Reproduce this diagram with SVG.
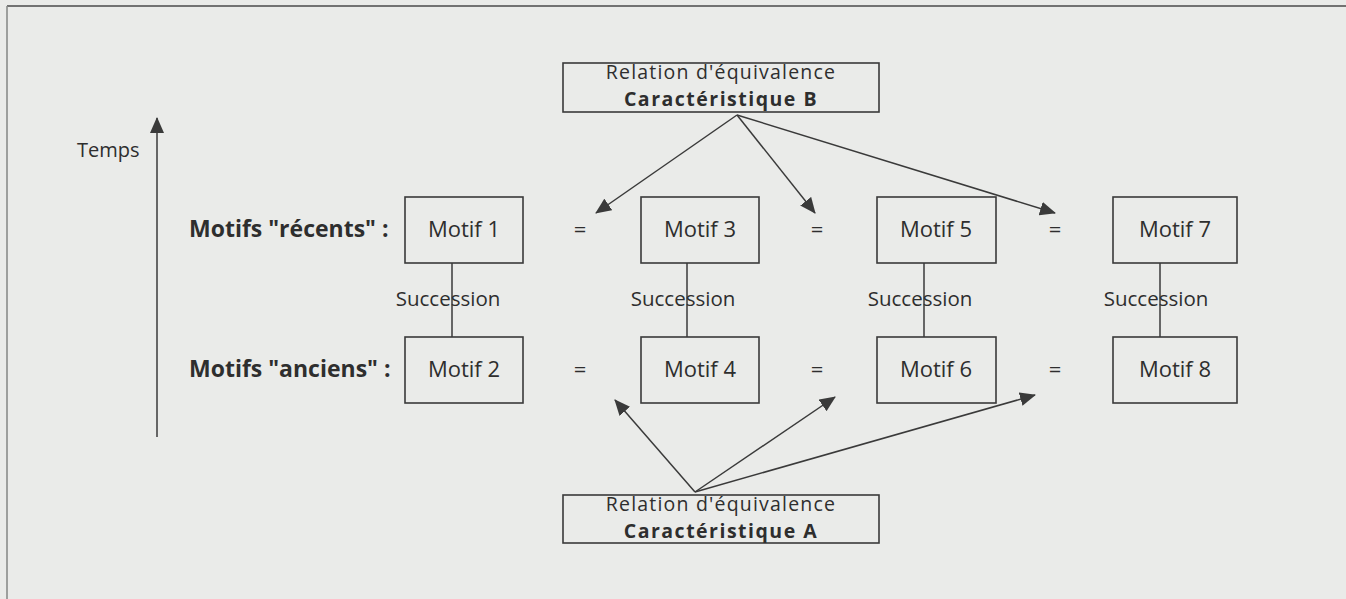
<svg xmlns="http://www.w3.org/2000/svg" width="1346" height="599" viewBox="0 0 1346 599">
  <defs>
    <marker id="ah" markerUnits="userSpaceOnUse" markerWidth="16" markerHeight="14" refX="15" refY="7" orient="auto">
      <path d="M0,0 L16,7 L0,14 Z" fill="#3a3a3a"/>
    </marker>
    <style>
      text { font-family: "Open Sans", "DejaVu Sans", sans-serif; fill: #2e2e2e; }
      .t { font-size: 22px; }
      .r { font-size: 19.5px; letter-spacing: 1.2px; }
      .s { font-size: 20.5px; }
      .tm { font-size: 20px; }
      .b { font-size: 19.5px; font-weight: bold; letter-spacing: 1.5px; }
      .lb { font-size: 23px; font-weight: bold; }
      .c { text-anchor: middle; }
      .box { fill: none; stroke: #3a3a3a; stroke-width: 1.6; }
      .ln { stroke: #3a3a3a; stroke-width: 1.5; fill: none; }
      .ar { stroke: #3a3a3a; stroke-width: 1.5; fill: none; marker-end: url(#ah); }
    </style>
  </defs>
  <rect x="0" y="0" width="1346" height="599" fill="#eaebe9"/>
  <g id="frame">
    <line x1="7" y1="6" x2="1346" y2="6" stroke="#4a4a4a" stroke-width="1.6"/>
    <line x1="7" y1="6" x2="7" y2="599" stroke="#8a8c8a" stroke-width="1.6"/>
  </g>

  <g id="connectors">
    <line class="ar" x1="157" y1="437" x2="157" y2="118"/>
    <line class="ar" x1="737" y1="115" x2="596" y2="213"/>
    <line class="ar" x1="737" y1="115" x2="815" y2="213"/>
    <line class="ar" x1="737" y1="115" x2="1055" y2="213"/>
    <line class="ar" x1="695" y1="492" x2="615" y2="400"/>
    <line class="ar" x1="695" y1="492" x2="835" y2="397"/>
    <line class="ar" x1="695" y1="492" x2="1035" y2="395"/>
    <line class="ln" x1="452" y1="263" x2="452" y2="337"/>
    <line class="ln" x1="687" y1="263" x2="687" y2="337"/>
    <line class="ln" x1="924" y1="263" x2="924" y2="337"/>
    <line class="ln" x1="1160" y1="263" x2="1160" y2="337"/>
  </g>

  <g id="labels">
    <text class="tm" x="77" y="157">Temps</text>
    <text class="lb" x="189" y="237">Motifs "récents" :</text>
    <text class="lb" x="189" y="377">Motifs "anciens" :</text>
    <text class="s c" x="448" y="306">Succession</text>
    <text class="s c" x="683" y="306">Succession</text>
    <text class="s c" x="920" y="306">Succession</text>
    <text class="s c" x="1156" y="306">Succession</text>
    <text class="t c" x="580" y="237">=</text>
    <text class="t c" x="817" y="237">=</text>
    <text class="t c" x="1055" y="237">=</text>
    <text class="t c" x="580" y="377">=</text>
    <text class="t c" x="817" y="377">=</text>
    <text class="t c" x="1055" y="377">=</text>
  </g>

  <g id="relB">
    <rect class="box" x="563" y="63" width="316" height="49"/>
    <text class="r c" x="721" y="79">Relation d'équivalence</text>
    <text class="b c" x="721" y="105.6">Caractéristique B</text>
  </g>
  <g id="relA">
    <rect class="box" x="563" y="495" width="316" height="48"/>
    <text class="r c" x="721" y="511">Relation d'équivalence</text>
    <text class="b c" x="721" y="537.6">Caractéristique A</text>
  </g>

  <g id="motif1"><rect class="box" x="405" y="197" width="118" height="66"/><text class="t c" x="464" y="237">Motif 1</text></g>
  <g id="motif3"><rect class="box" x="641" y="197" width="118" height="66"/><text class="t c" x="700" y="237">Motif 3</text></g>
  <g id="motif5"><rect class="box" x="877" y="197" width="119" height="66"/><text class="t c" x="936" y="237">Motif 5</text></g>
  <g id="motif7"><rect class="box" x="1113" y="197" width="124" height="66"/><text class="t c" x="1175" y="237">Motif 7</text></g>
  <g id="motif2"><rect class="box" x="405" y="337" width="118" height="66"/><text class="t c" x="464" y="377">Motif 2</text></g>
  <g id="motif4"><rect class="box" x="641" y="337" width="118" height="66"/><text class="t c" x="700" y="377">Motif 4</text></g>
  <g id="motif6"><rect class="box" x="877" y="337" width="119" height="66"/><text class="t c" x="936" y="377">Motif 6</text></g>
  <g id="motif8"><rect class="box" x="1113" y="337" width="124" height="66"/><text class="t c" x="1175" y="377">Motif 8</text></g>
</svg>
